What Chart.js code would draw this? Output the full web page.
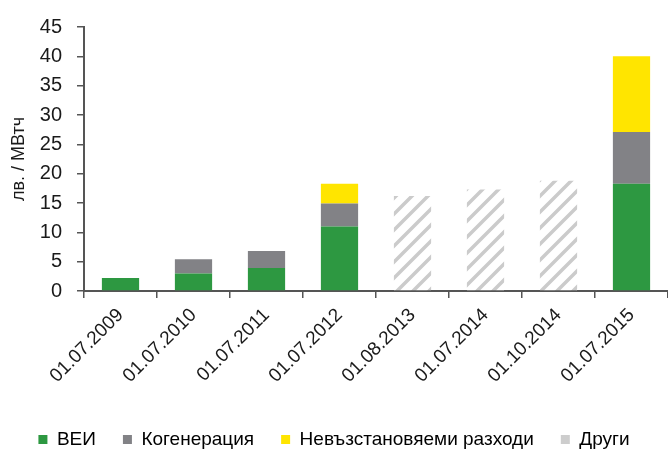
<!DOCTYPE html>
<html>
<head>
<meta charset="utf-8">
<script src="https://cdn.jsdelivr.net/npm/chart.js@4.4.1/dist/chart.umd.min.js"></script>
<style>
  html, body { margin: 0; padding: 0; background: #fff; }
  #wrap { width: 668px; height: 450px; }
</style>
</head>
<body>
<div id="wrap"><canvas id="chart" width="668" height="450"></canvas></div>
<script>
const labels = ["01.07.2009", "01.07.2010", "01.07.2011", "01.07.2012", "01.08.2013", "01.07.2014", "01.10.2014", "01.07.2015"];
const vei = [2.2, 3.0, 3.9, 11.0, null, null, null, 18.3];
const cogen = [null, 2.4, 2.9, 3.9, null, null, null, 8.8];
const stranded = [null, null, null, 3.4, null, null, null, 12.9];
const other = [null, null, null, null, 16.2, 17.3, 18.8, null];
const yTicks = [0, 5, 10, 15, 20, 25, 30, 35, 40, 45];
const seriesNames = ["ВЕИ", "Когенерация", "Невъзстановяеми разходи", "Други"];
const colors = ["#2d9841", "#828286", "#ffe500", "#cdcdcd"];

const FONT = "'Liberation Sans', Arial, sans-serif";

// diagonal stripes for "Други"
function makeHatch() {
  const s = 16;
  const c = document.createElement("canvas");
  c.width = s; c.height = s;
  const g = c.getContext("2d");
  g.fillStyle = "#fff";
  g.fillRect(0, 0, s, s);
  g.strokeStyle = "#cbcbcb";
  g.lineWidth = 3.5;
  g.beginPath();
  g.moveTo(-4, s + 4); g.lineTo(s + 4, -4);
  g.moveTo(-4, 4); g.lineTo(4, -4);
  g.moveTo(s - 4, s + 4); g.lineTo(s + 4, s - 4);
  g.stroke();
  return g.createPattern(c, "repeat");
}

const ctx = document.getElementById("chart").getContext("2d");
new Chart(ctx, {
  type: "bar",
  data: {
    labels: labels,
    datasets: [
      { label: seriesNames[0], data: vei, backgroundColor: colors[0] },
      { label: seriesNames[1], data: cogen, backgroundColor: colors[1] },
      { label: seriesNames[2], data: stranded, backgroundColor: colors[2] },
      { label: seriesNames[3], data: other, backgroundColor: makeHatch() },
    ],
  },
  options: {
    responsive: false,
    animation: false,
    layout: { padding: { left: 0, right: 0, top: 14, bottom: -9 } },
    datasets: { bar: { categoryPercentage: 1.0, barPercentage: 0.51 } },
    plugins: {
      tooltip: { enabled: false },
      legend: {
        position: "bottom",
        labels: {
          boxWidth: 9,
          boxHeight: 9,
          padding: 27,
          color: "#1a1a1a",
          font: { family: FONT, size: 19 },
          generateLabels: (chart) =>
            chart.data.datasets.map((ds, i) => ({
              text: ds.label,
              fillStyle: colors[i],
              strokeStyle: colors[i],
              lineWidth: 0,
              datasetIndex: i,
            })),
        },
      },
    },
    scales: {
      x: {
        stacked: true,
        afterFit: (s) => { s.height = 112; },
        grid: { drawOnChartArea: false, tickLength: 7, color: "#555", lineWidth: 1.5 },
        border: { color: "#555", width: 2 },
        ticks: {
          maxRotation: 45,
          minRotation: 45,
          padding: 6,
          color: "#1a1a1a",
          font: { family: FONT, size: 19 },
        },
      },
      y: {
        stacked: true,
        min: 0,
        max: 45,
        afterFit: (s) => { s.width = 84; },
        afterBuildTicks: (s) => { s.ticks = yTicks.map((v) => ({ value: v })); },
        grid: { drawOnChartArea: false, tickLength: 7, color: "#555", lineWidth: 1.5 },
        border: { color: "#555", width: 2 },
        ticks: {
          autoSkip: false,
          color: "#1a1a1a",
          padding: 15,
          font: { family: FONT, size: 20 },
        },
        title: {
          display: true,
          text: "лв. / МВтч",
          color: "#1a1a1a",
          font: { family: FONT, size: 18 },
          padding: { top: 8, bottom: 0 },
        },
      },
    },
  },
});
</script>
</body>
</html>
